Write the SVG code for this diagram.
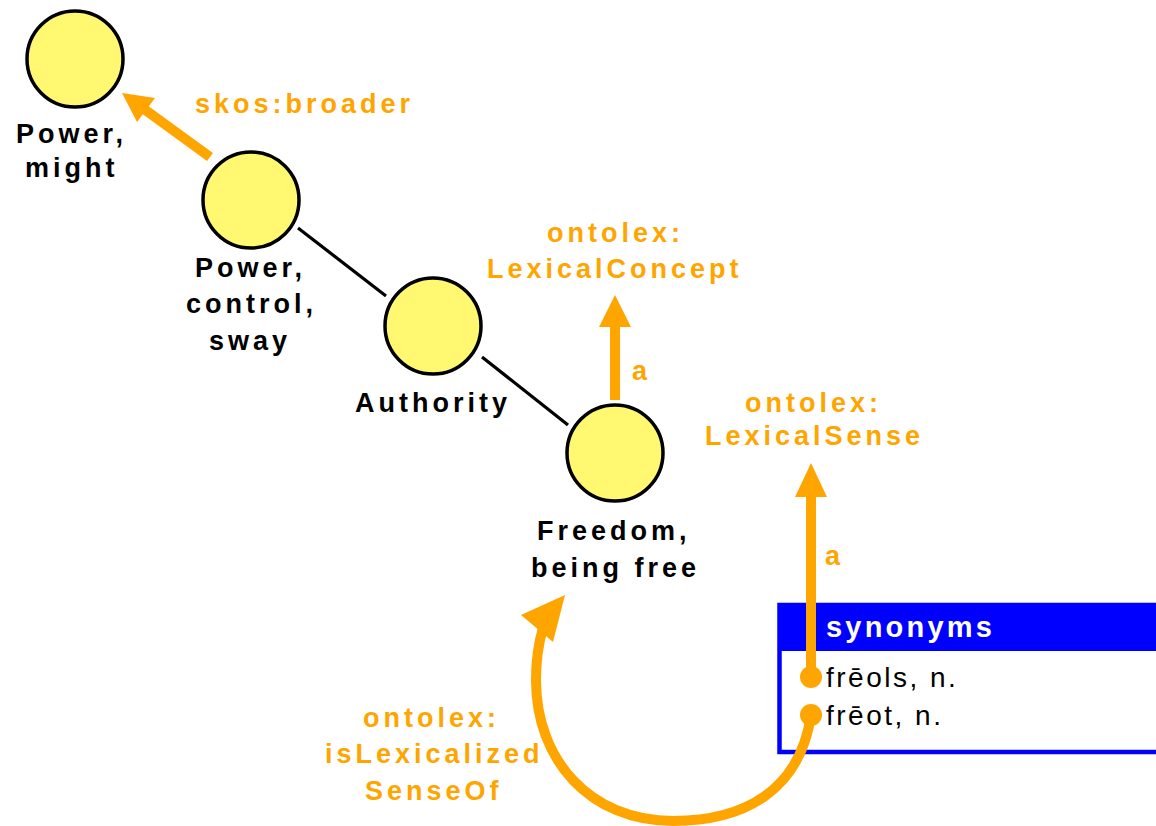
<svg xmlns="http://www.w3.org/2000/svg" width="1156" height="826" viewBox="0 0 1156 826">
<style>
.node circle{fill:#fff870;stroke:#000;stroke-width:3.5}
.lbl{font-family:"Liberation Sans",Arial,sans-serif;font-weight:bold;font-size:27px;letter-spacing:4px;fill:#000}
.olbl{font-family:"Liberation Sans",Arial,sans-serif;font-weight:bold;font-size:27px;letter-spacing:4px;fill:#ffa500}
.edge{stroke:#000;stroke-width:3.2;fill:none}
.oedge{stroke:#ffa500;stroke-width:10;fill:none}
.head{fill:#ffa500}
.entry{font-family:"Liberation Sans",Arial,sans-serif;font-size:28px;letter-spacing:2.5px;fill:#000}
.hdr{font-family:"Liberation Sans",Arial,sans-serif;font-weight:bold;font-size:29px;letter-spacing:3.2px;fill:#fff}
</style>
<rect width="1156" height="826" fill="#fff"/>
<g id="synonyms">
<rect x="779.5" y="605" width="390" height="147" fill="#fff" stroke="#0000ff" stroke-width="4.5"/>
<rect x="779.5" y="605" width="390" height="46" fill="#0000ff"/>
<text class="hdr" x="826" y="637">synonyms</text>
<text class="entry" x="826" y="687">frēols, n.</text>
<text class="entry" x="826" y="725">frēot, n.</text>
</g>
<g id="connectors">
<line class="edge" x1="298" y1="228" x2="386" y2="296"/>
<line class="edge" x1="482" y1="357" x2="568" y2="425"/>
<line class="oedge" x1="210" y1="157" x2="144" y2="109"/>
<polygon class="head" points="122,93 155,98 137,122"/>
<line class="oedge" x1="615" y1="400" x2="615" y2="322"/>
<polygon class="head" points="615,295 631,327 599,327"/>
<line class="oedge" x1="811" y1="677" x2="811" y2="492"/>
<polygon class="head" points="811,463 827,497 795,497"/>
<path class="oedge" d="M811,715 C800,790 745,821 673,821 C590,821 536,760 536,680 C536,660 538,645 543,628"/>
<polygon class="head" points="565,595 553,642 521,615"/>
<circle cx="811" cy="677" r="11" fill="#ffa500"/>
<circle cx="811" cy="715" r="11" fill="#ffa500"/>
<text class="olbl" x="195" y="113">skos:broader</text>
<text class="olbl" x="547" y="242">ontolex:</text>
<text class="olbl" x="487" y="278">LexicalConcept</text>
<text class="olbl" x="632" y="380">a</text>
<text class="olbl" x="745" y="412">ontolex:</text>
<text class="olbl" x="705" y="445">LexicalSense</text>
<text class="olbl" x="825" y="565">a</text>
<text class="olbl" x="363" y="727">ontolex:</text>
<text class="olbl" x="325" y="763">isLexicalized</text>
<text class="olbl" x="365" y="800">SenseOf</text>
</g>
<g id="power-might" class="node">
<circle cx="75" cy="59" r="48"/>
<text class="lbl" x="16" y="143">Power,</text>
<text class="lbl" x="25" y="177">might</text>
</g>
<g id="power-control-sway" class="node">
<circle cx="251" cy="200" r="48"/>
<text class="lbl" x="195" y="277">Power,</text>
<text class="lbl" x="186" y="313">control,</text>
<text class="lbl" x="209" y="350">sway</text>
</g>
<g id="authority" class="node">
<circle cx="433" cy="326" r="48"/>
<text class="lbl" x="355" y="412">Authority</text>
</g>
<g id="freedom" class="node">
<circle cx="615" cy="453" r="48"/>
<text class="lbl" x="537" y="540">Freedom,</text>
<text class="lbl" x="531" y="577">being free</text>
</g>
</svg>
